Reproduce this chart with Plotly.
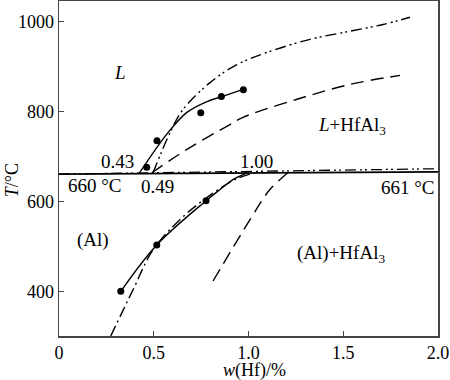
import plotly.graph_objects as go

# ---- data (w(Hf)/%, T/°C) ----
liq_exp_x = [0.422, 0.575, 0.675, 0.781, 0.86, 0.971]
liq_exp_y = [662, 753, 798, 822, 833, 849]
liq_pts_x = [0.463, 0.517, 0.748, 0.857, 0.973]
liq_pts_y = [676, 735, 797, 833, 848]

liq_calc_x = [0.496, 0.586, 0.654, 0.797, 0.939, 1.098, 1.325, 1.536, 1.71, 1.852]
liq_calc_y = [664, 753, 804, 864, 904, 931, 960, 978, 993, 1009]

liq_dash_x = [0.49, 0.675, 0.902, 0.971, 1.256, 1.536, 1.80]
liq_dash_y = [664, 716, 771, 787, 827, 860, 880]

sol_exp_x = [0.326, 0.516, 0.776, 0.85, 0.918, 0.992]
sol_exp_y = [401, 504, 602, 627, 649, 664]
sol_pts_x = [0.326, 0.516, 0.776]
sol_pts_y = [401, 504, 602]

sol_calc_x = [0.273, 0.39, 0.496, 0.638, 0.78, 0.929, 1.034]
sol_calc_y = [302, 404, 493, 560, 609, 649, 664]

sol_dash_x = [0.813, 1.008, 1.113, 1.208]
sol_dash_y = [424, 560, 627, 664]

eut_solid_x = [0, 2.0]
eut_solid_y = [661, 666]
eut_calc_x = [0, 2.0]
eut_calc_y = [661, 673]

x_ticks = [0, 0.5, 1.0, 1.5, 2.0]
x_tick_text = ["0", "0.5", "1.0", "1.5", "2.0"]
y_ticks = [400, 600, 800, 1000]

FONT = "Liberation Serif, Times New Roman, serif"
DASHDOT2 = "11px,4px,2px,3px,2px,4px"
DASHDOT = "11px,4px,2px,4px"
DASH = "13px,7px"

fig = go.Figure()

def line(x, y, dash="solid", spline=True, w=1.4):
    fig.add_trace(go.Scatter(x=x, y=y, mode="lines",
                             line=dict(color="black", width=w, dash=dash,
                                       shape="spline" if spline else "linear"),
                             showlegend=False, hoverinfo="skip"))

line(eut_solid_x, eut_solid_y, "solid", spline=False, w=1.6)
line(eut_calc_x, eut_calc_y, DASHDOT2, spline=False, w=1.3)
line(liq_exp_x, liq_exp_y, "solid")
line(liq_calc_x, liq_calc_y, DASHDOT2)
line(liq_dash_x, liq_dash_y, DASH)
line(sol_exp_x, sol_exp_y, "solid")
line(sol_calc_x, sol_calc_y, DASHDOT)
line(sol_dash_x, sol_dash_y, DASH)

for px, py in [(liq_pts_x, liq_pts_y), (sol_pts_x, sol_pts_y)]:
    fig.add_trace(go.Scatter(x=px, y=py, mode="markers",
                             marker=dict(color="black", size=7),
                             showlegend=False, hoverinfo="skip"))

labels = [
    (0.32, 887, "<i>L</i>"),
    (1.546, 767, "<i>L</i>+HfAl<sub>3</sub>"),
    (0.31, 689, "0.43"),
    (0.19, 636, "660 °C"),
    (0.52, 633, "0.49"),
    (1.04, 689, "1.00"),
    (1.84, 631, "661 °C"),
    (0.18, 516, "(Al)"),
    (1.49, 484, "(Al)+HfAl<sub>3</sub>"),
]
for lx, ly, t in labels:
    fig.add_annotation(x=lx, y=ly, text=t, showarrow=False,
                       font=dict(family=FONT, size=19, color="black"))

# axis titles as annotations to match their placement
fig.add_annotation(xref="paper", yref="paper", x=-0.124, y=0.465, text="<i>T</i>/°C",
                   textangle=-90, showarrow=False, xanchor="center", yanchor="middle",
                   font=dict(family=FONT, size=18, color="black"))
fig.add_annotation(xref="paper", yref="paper", x=0.517, y=-0.104, text="<i>w</i>(Hf)/%",
                   showarrow=False, xanchor="center", yanchor="middle",
                   font=dict(family=FONT, size=18, color="black"))

axis_common = dict(showline=True, linecolor="#444", linewidth=1.5, mirror=True,
                   ticks="inside", ticklen=5, tickwidth=1.2, tickcolor="#444",
                   showgrid=False, zeroline=False, automargin=False,
                   tickfont=dict(family=FONT, size=18, color="black"))

fig.update_xaxes(range=[0, 2.0], tickvals=x_ticks, ticktext=x_tick_text, **axis_common)
fig.update_yaxes(range=[302, 1045], tickvals=y_ticks, **axis_common)

fig.update_layout(width=450, height=380, margin=dict(l=59, r=12, t=1, b=44),
                  plot_bgcolor="white", paper_bgcolor="white")

fig.write_html("out.html", config={"displayModeBar": False, "staticPlot": True},
               post_script="document.body.style.margin='0';document.body.style.padding='0';")
